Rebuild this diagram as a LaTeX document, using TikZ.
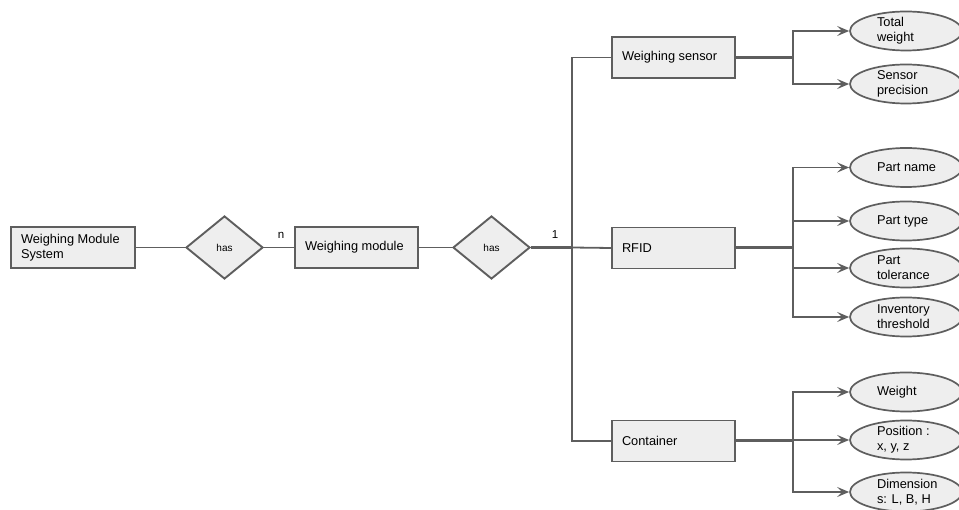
\documentclass[tikz,border=0pt]{standalone}
\usepackage{fontspec}
\setmainfont{Liberation Sans}
\usetikzlibrary{shapes.geometric,arrows.meta}
\definecolor{edge}{HTML}{5E5E5E}
\definecolor{boxfill}{HTML}{EEEEEE}
\begin{document}
\begin{tikzpicture}[x=1pt,y=-1pt,
  every node/.style={font=\fontsize{12.8}{15}\selectfont},
  entity/.style={draw=edge,line width=1.9pt,fill=boxfill,rectangle,
    minimum height=41pt,inner xsep=10pt,inner ysep=0pt,align=flush left},
  relation/.style={draw=edge,line width=1.9pt,fill=boxfill,diamond,
    minimum width=77pt,minimum height=63pt,inner sep=0pt,aspect=1.22,
    font=\fontsize{10}{12}\selectfont},
  attr/.style={draw=edge,line width=1.7pt,fill=boxfill,ellipse,
    minimum width=112pt,minimum height=39pt,inner sep=0pt,
    text width=58pt,align=flush left},
  link/.style={draw=edge,line width=1.8pt},
  thick link/.style={draw=edge,line width=3pt},
  toattr/.style={draw=edge,line width=1.8pt,
    -{Stealth[length=12pt,width=10pt,inset=5pt]}},
  card/.style={font=\fontsize{11.5}{13}\selectfont}]
\useasboundingbox (0,0) rectangle (959,510);

% entities
\node[entity,minimum width=124pt,text width=104pt] (wms) at (73,247.5)
  {Weighing Module\\System};
\node[entity,minimum width=123pt,text width=103pt] (wm) at (356.5,247.5)
  {Weighing module};
\node[entity,minimum width=123pt,text width=103pt] (ws) at (673.5,57.5)
  {Weighing sensor};
\node[entity,minimum width=123pt,text width=103pt] (rfid) at (673.5,248)
  {RFID};
\node[entity,minimum width=123pt,text width=103pt] (cont) at (673.5,441)
  {Container};

% relationships
\node[relation] (has1) at (224.5,247.5) {has};
\node[relation] (has2) at (491.5,247.5) {has};

% cardinalities
\node[card] (n) at (281,235) {n};
\node[card] (one) at (555,235) {1};

% attributes
\node[attr] (tw) at (906,31) {Total\\weight};
\node[attr] (sp) at (906,84) {Sensor\\precision};
\node[attr] (pn) at (906,167.5) {\mbox{Part name}};
\node[attr] (pt) at (906,221) {Part type};
\node[attr] (ptol) at (906,268) {Part\\tolerance};
\node[attr] (inv) at (906,317) {Inventory\\threshold};
\node[attr] (w) at (906,392) {Weight};
\node[attr] (pos) at (906,440) {Position :\\x, y, z};
\node[attr] (dim) at (906,492) {Dimension\\s: L, B, H};

% bus and branch points
\coordinate (bus) at (572,247.5);
\coordinate (bws) at (793,57.5);
\coordinate (brf) at (793,248);
\coordinate (bct) at (793,441);

% left chain
\draw[link] (wms.east) -- (has1.west);
\draw[link] (has1.east) -- (wm.west);
\draw[link] (wm.east) -- (has2.west);
\draw[thick link] (has2.east) -- (bus);

% bus to the three entities
\draw[link] (ws.west) -- (ws.west -| bus) -- (cont.west -| bus) -- (cont.west);
\draw[link] (bus) -- (rfid.west);

% entity to branch
\draw[thick link] (ws.east) -- (bws);
\draw[thick link] (rfid.east) -- (brf);
\draw[thick link] (cont.east) -- (bct);

% branches to attributes
\draw[toattr] (bws) |- (tw.west);
\draw[toattr] (bws) |- (sp.west);
\draw[toattr] (brf) |- (pn.west);
\draw[toattr] (brf) |- (pt.west);
\draw[toattr] (brf) |- (ptol.west);
\draw[toattr] (brf) |- (inv.west);
\draw[toattr] (bct) |- (w.west);
\draw[toattr] (bct) |- (pos.west);
\draw[toattr] (bct) |- (dim.west);
\end{tikzpicture}
\end{document}
